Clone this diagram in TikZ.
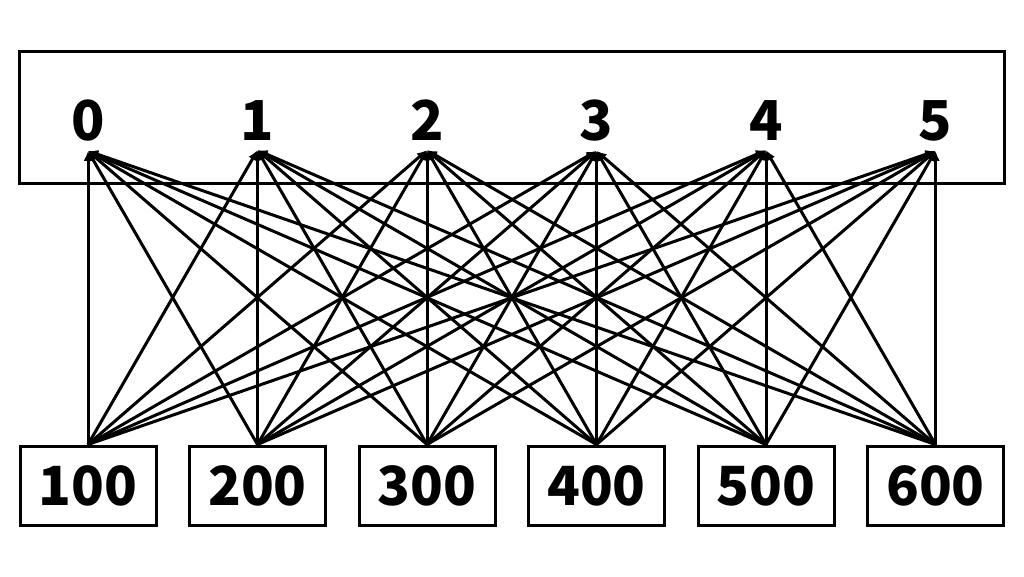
\documentclass[tikz,border=0pt]{standalone}
\usepackage{fontspec}
\setmainfont{Noto Sans CJK JP}
\usetikzlibrary{arrows.meta}
\begin{document}
\begin{tikzpicture}[x=1pt,y=-1pt,
  topnum/.style={anchor=base,inner sep=10pt,font=\fontsize{55}{55}\selectfont\bfseries},
  numbox/.style={draw,line width=3pt,minimum width=136pt,minimum height=79pt,inner sep=0pt,font=\fontsize{54}{54}\selectfont\bfseries},
  link/.style={line width=3pt,-{Latex[length=10pt,width=9pt]}}]
\useasboundingbox (0,0) rectangle (1024,576);
\node[draw,line width=3pt,minimum width=985pt,minimum height=132pt,inner sep=0pt] (frame) at (511.5,117) {};
\foreach \i/\x in {0/88,1/257.5,2/427,3/596.5,4/766,5/935.5}{
  \node[topnum] (t\i) at (\x,140) {\i};
}
\foreach \j/\x/\v in {1/88/100,2/257.5/200,3/427/300,4/596.5/400,5/766/500,6/935.5/600}{
  \node[numbox] (b\j) at (\x,485.5) {\v};
}
\foreach \j in {1,...,6}{
  \foreach \i in {0,...,5}{
    \draw[link] (b\j.north) -- (t\i.south);
  }
}
\end{tikzpicture}
\end{document}
